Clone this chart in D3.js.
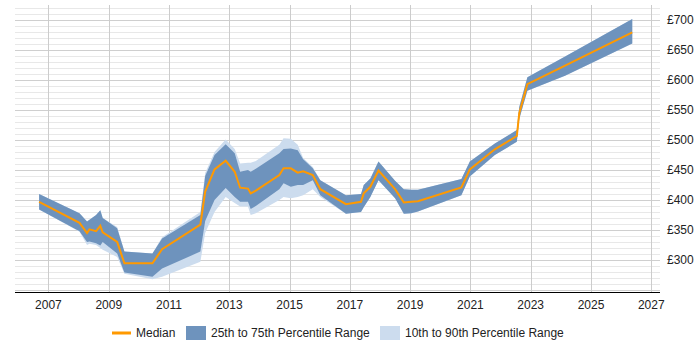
<!DOCTYPE html>
<html>
<head>
<meta charset="utf-8">
<script src="https://cdn.jsdelivr.net/npm/d3@7"></script>
<style>
  body { margin: 0; background: #fff; }
  svg text { font-family: "Liberation Sans", Arial, sans-serif; font-size: 12px; fill: #222; }
</style>
</head>
<body>
<div id="chart"></div>
<script>
// DATA ///////////////////////////////////////////////////////////////////////
const years  = [2006.69, 2008.03, 2008.28, 2008.36, 2008.58, 2008.72, 2008.80, 2009.28, 2009.52, 2010.45, 2010.77,
                2012.04, 2012.20, 2012.51, 2012.88, 2013.18, 2013.36, 2013.62, 2013.71, 2013.88, 2014.66, 2014.80,
                2015.04, 2015.27, 2015.45, 2015.77, 2016.02, 2016.87, 2017.37, 2017.46, 2017.68, 2017.95, 2018.50,
                2018.79, 2019.04, 2019.26, 2020.70, 2020.98, 2021.81, 2022.54, 2022.62, 2022.89, 2024.14, 2026.37];
const p10    = [384, 347, 325, 327, 325, 320, 317, 305, 277, 268, 272,
                297, 345, 380, 405, 395, 389, 389, 375, 378, 400, 405,
                403, 405, 408, 418, 405, 377, 380, 388, 405, 433, 403,
                377, 378, 381, 408, 439, 475, 497, 535, 582, 607, 661];
const p25    = [384, 348, 330, 331, 328, 324, 330, 311, 279, 272, 286,
                314, 365, 400, 420, 405, 397, 397, 385, 390, 418, 428,
                422, 425, 425, 433, 408, 377, 380, 388, 405, 433, 403,
                377, 378, 381, 408, 439, 475, 497, 535, 582, 607, 661];
const median = [397, 362, 345, 351, 348, 357, 346, 330, 294.5, 294.5, 318,
                359, 414, 451, 465.5, 447, 420.5, 419, 411, 415.5, 441.7, 452.8,
                452.8, 445.5, 448, 441.7, 418, 393, 397, 411, 422, 449, 418,
                396, 397, 398, 421, 451, 484.5, 506.7, 544.5, 593, 624, 679.5];
const p75    = [410, 378, 364, 367, 375, 383, 370, 353, 314, 311, 336,
                375, 440, 475, 493, 478, 447, 450, 447, 452, 478, 485,
                486, 483, 468, 453, 433, 408, 410, 425, 436, 464, 432,
                418, 417, 417, 435, 464, 494, 516.7, 555, 604.5, 639, 701.7];
const p90    = [410, 378, 364, 367, 375, 383, 370, 355, 314, 311, 338,
                380, 445, 480, 501, 485, 461, 462, 462, 465, 492, 503,
                502, 492, 470, 455, 433, 408, 410, 425, 436, 464, 432,
                418, 417, 417, 435, 464, 494, 516.7, 555, 604.5, 639, 701.7];

const xTicks = [2007, 2009, 2011, 2013, 2015, 2017, 2019, 2021, 2023, 2025, 2027];
const yTicks = [300, 350, 400, 450, 500, 550, 600, 650, 700];
const legendLabels = ["Median", "25th to 75th Percentile Range", "10th to 90th Percentile Range"];

// CHART //////////////////////////////////////////////////////////////////////
const w = 700, h = 350;
const plotLeft = 15, plotRight = 660, plotTop = 5, plotBottom = 292;

const data = years.map((yr, i) => ({yr, p10: p10[i], p25: p25[i], med: median[i], p75: p75[i], p90: p90[i]}));

const x = d3.scaleLinear().domain([2005.89, 2027.29]).range([plotLeft, plotRight]);
const y = d3.scaleLinear().domain([246.67, 725]).range([plotBottom, plotTop]);

const svg = d3.select("#chart").append("svg")
  .attr("width", w)
  .attr("height", h);

// minor + major horizontal gridlines
const minor = d3.range(250, 721, 10);
svg.append("g").selectAll("line")
  .data(minor)
  .enter()
  .append("line")
  .attr("x1", plotLeft).attr("x2", plotRight)
  .attr("y1", d => Math.round(y(d)) + 0.5)
  .attr("y2", d => Math.round(y(d)) + 0.5)
  .attr("stroke", d => d % 50 === 0 ? "#cfcfcf" : "#e8e8e8")
  .attr("stroke-width", 1);

// vertical gridlines
svg.append("g").selectAll("line")
  .data(xTicks)
  .enter()
  .append("line")
  .attr("x1", d => Math.round(x(d)) + 0.5)
  .attr("x2", d => Math.round(x(d)) + 0.5)
  .attr("y1", plotTop).attr("y2", plotBottom)
  .attr("stroke", "#cccccc");

// bands
const area = (lo, hi) => d3.area()
  .x(d => x(d.yr))
  .y0(d => y(d[lo]))
  .y1(d => y(d[hi]));

svg.append("path")
  .datum(data)
  .attr("d", area("p10", "p90"))
  .attr("fill", "#ccdcee");

svg.append("path")
  .datum(data)
  .attr("d", area("p25", "p75"))
  .attr("fill", "#6e93bd");

// median line
svg.append("path")
  .datum(data)
  .attr("d", d3.line().x(d => x(d.yr)).y(d => y(d.med)))
  .attr("fill", "none")
  .attr("stroke", "#ff9900")
  .attr("stroke-width", 2);

// x axis
svg.append("line")
  .attr("x1", plotLeft).attr("x2", plotRight)
  .attr("y1", plotBottom + 0.5).attr("y2", plotBottom + 0.5)
  .attr("stroke", "#000");

svg.append("g").selectAll("text")
  .data(xTicks)
  .enter()
  .append("text")
  .attr("x", d => x(d))
  .attr("y", plotBottom + 17)
  .attr("text-anchor", "middle")
  .text(d3.format("d"));

// y axis labels (right side)
svg.append("g").selectAll("text")
  .data(yTicks)
  .enter()
  .append("text")
  .attr("x", 667)
  .attr("y", d => y(d) + 4)
  .text(d => "£" + d);

// legend
const lg = svg.append("g").attr("transform", "translate(0,333)");
lg.append("line")
  .attr("x1", 112).attr("x2", 131)
  .attr("y1", 0).attr("y2", 0)
  .attr("stroke", "#ff9900").attr("stroke-width", 3);
lg.append("text").attr("x", 136).attr("y", 4).text(legendLabels[0]);
lg.append("rect")
  .attr("x", 186).attr("y", -7).attr("width", 20).attr("height", 14)
  .attr("fill", "#6e93bd");
lg.append("text").attr("x", 211).attr("y", 4).text(legendLabels[1]);
lg.append("rect")
  .attr("x", 380).attr("y", -7).attr("width", 20).attr("height", 14)
  .attr("fill", "#ccdcee");
lg.append("text").attr("x", 405).attr("y", 4).text(legendLabels[2]);
</script>
</body>
</html>
